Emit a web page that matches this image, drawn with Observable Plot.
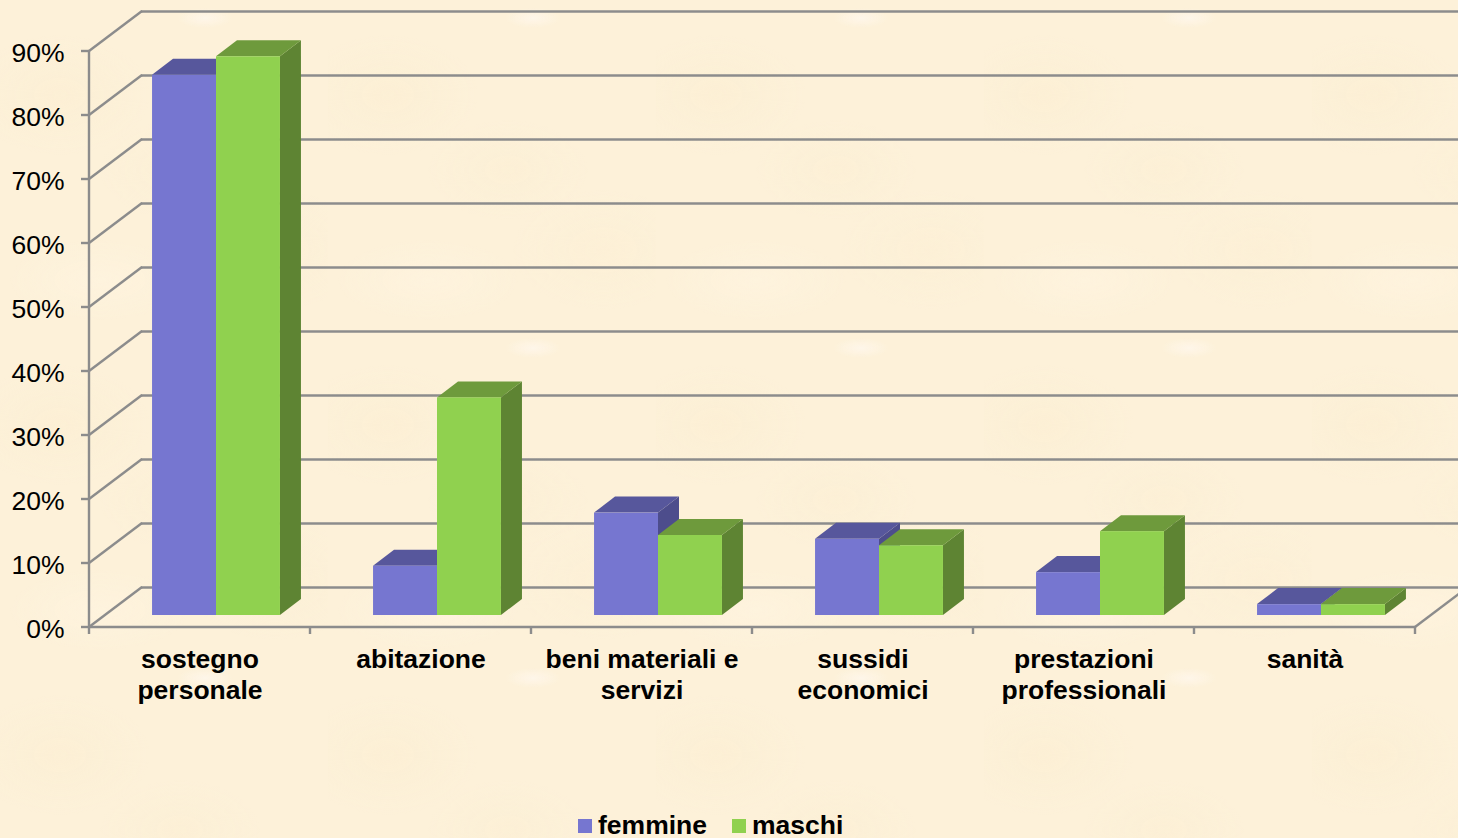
<!DOCTYPE html>
<html lang="it">
<head>
<meta charset="utf-8">
<script src="https://cdn.jsdelivr.net/npm/d3@7"></script>
<script src="https://cdn.jsdelivr.net/npm/@observablehq/plot@0.6"></script>
<style>
html,body{margin:0;padding:0;width:1458px;height:838px;overflow:hidden}
body{
  font-family:"Liberation Sans",Arial,sans-serif;
  background-color:#fdf1d9;
  background-image:
    radial-gradient(ellipse 28px 10px at 205px 18px,rgba(255,248,240,.7),rgba(255,248,240,0) 100%),
    radial-gradient(ellipse 90px 60px at 60px 95px,rgba(250,236,205,.35),rgba(250,236,205,0) 100%),
    radial-gradient(ellipse 80px 50px at 180px 170px,rgba(250,237,208,.35),rgba(250,237,208,0) 100%),
    radial-gradient(ellipse 90px 60px at 275px 250px,rgba(251,238,210,.4),rgba(251,238,210,0) 100%),
    radial-gradient(ellipse 90px 40px at 100px 280px,rgba(255,245,226,.5),rgba(255,245,226,0) 100%);
  background-size:328px 330px;
}
#legend{position:relative;height:30px;font-weight:bold;font-size:26.5px;line-height:30px;color:#000}
#legend i{position:absolute;top:11px;width:14px;height:14px}
#legend span{position:absolute;top:2px}
svg{display:block;background:transparent!important}
</style>
</head>
<body>
<div id="chart"></div>
<div id="legend"></div>
<script>
const categories = ["sostegno\npersonale","abitazione","beni materiali e\nservizi","sussidi\neconomici","prestazioni\nprofessionali","sanità"];
const seriesNames = ["femmine","maschi"];
const femmine = [84.4,7.7,16,11.9,6.7,1.7];
const maschi = [87.3,34,12.5,10.9,13.1,1.7];
const yTicks = [0,10,20,30,40,50,60,70,80,90];
const palette = {
  femmine:{front:"#7676d0",top:"#57579c",side:"#4d4d8c"},
  maschi:{front:"#90d14f",top:"#6e9a3c",side:"#5e8433"}
};
const gridColor = "#8c8c8c";
const gridWidth = 2.4;
const wall = {dx:53,dy:-40};
const plane = {dx:16.5,dy:-12};
const depth = {dx:21,dy:-16};

const rows = categories.flatMap((c,i)=>[
  {category:c,series:"femmine",value:femmine[i]},
  {category:c,series:"maschi",value:maschi[i]}
]);

function bars3d(index,{x,y}){
  const g = d3.create("svg:g").attr("aria-label","bars3d");
  const bw = x.bandwidth();
  const barW = bw*0.2894;
  const y0 = y(0);
  const poly = (pts,fill)=>g.append("path").attr("d","M"+pts.map(p=>p.join(",")).join("L")+"Z").attr("fill",fill);
  for (const d of rows){
    const k = seriesNames.indexOf(d.series);
    const c = palette[d.series];
    const left = x(d.category)+bw/2+plane.dx+(k-1)*barW;
    const right = left+barW;
    const top = y(d.value)+plane.dy;
    const bottom = y0+plane.dy;
    poly([[right,top],[right+depth.dx,top+depth.dy],[right+depth.dx,bottom+depth.dy],[right,bottom]],c.side);
    poly([[left,top],[left+depth.dx,top+depth.dy],[right+depth.dx,top+depth.dy],[right,top]],c.top);
    g.append("rect").attr("x",left).attr("y",top).attr("width",barW).attr("height",bottom-top).attr("fill",c.front);
  }
  return g.node();
}

function frame3d(index,{x,y}){
  const g = d3.create("svg:g").attr("aria-label","frame3d").attr("stroke",gridColor).attr("stroke-width",gridWidth).attr("fill","none");
  const xa = x(categories[0]);
  const bw = x.bandwidth();
  const xb = x(categories[categories.length-1])+bw;
  const line = (x1,y1,x2,y2)=>g.append("line").attr("x1",x1).attr("y1",y1).attr("x2",x2).attr("y2",y2);
  for (const t of yTicks){
    line(xa,y(t),xa+wall.dx,y(t)+wall.dy);
    line(xa-8,y(t),xa,y(t));
  }
  line(xb,y(0),xb+wall.dx,y(0)+wall.dy);
  line(xa,y(0),xa,y(yTicks[yTicks.length-1]));
  line(xa,y(0),xb,y(0));
  for (const c of categories) line(x(c),y(0),x(c),y(0)+7);
  line(xb,y(0),xb,y(0)+7);
  return g.node();
}

const plot = Plot.plot({
  width:1458,
  height:808,
  marginLeft:88,
  marginRight:43,
  marginTop:51,
  marginBottom:181,
  style:{background:"transparent",fontFamily:"'Liberation Sans',Arial,sans-serif",overflow:"visible"},
  x:{type:"band",domain:categories,padding:0,align:0.5,axis:null},
  y:{domain:[0,90],axis:null},
  marks:[
    Plot.ruleY(yTicks,{y:d=>d,dx:wall.dx,dy:wall.dy,stroke:gridColor,strokeWidth:gridWidth}),
    frame3d,
    bars3d,
    Plot.axisY({ticks:yTicks,tickFormat:d=>d+"%",label:null,tickSize:0,tickPadding:24,fontSize:26.5,dy:2,fill:"#000"}),
    Plot.axisX({tickSize:0,tickPadding:18,label:null,fontSize:26.5,fontWeight:"bold",fill:"#000",lineHeight:1.17,textAnchor:"middle",lineAnchor:"top"})
  ]
});
document.getElementById("chart").append(plot);

const legendX = {femmine:[578,598],maschi:[732,752]};
const legend = d3.select("#legend");
for (const s of seriesNames){
  legend.append("i").style("left",legendX[s][0]+"px").style("background",palette[s].front);
  legend.append("span").style("left",legendX[s][1]+"px").text(s);
}
</script>
</body>
</html>
